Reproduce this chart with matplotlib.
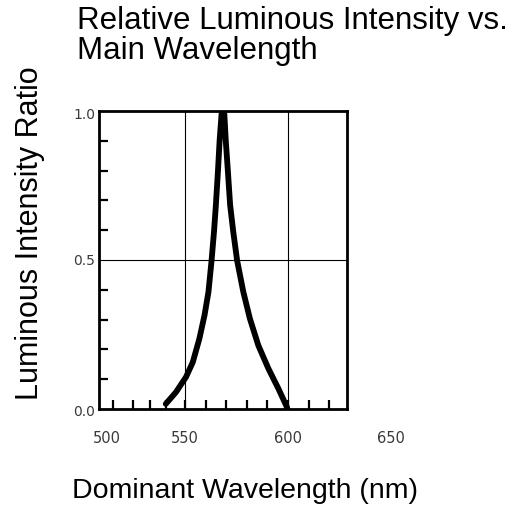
import matplotlib
matplotlib.use('Agg')
import matplotlib.pyplot as plt
import numpy as np

# curve (nm, relative intensity)
wavelength = [540.7, 545.6, 550.5, 553.8, 557.0, 559.5, 561.4, 562.9, 564.1, 565.0, 566.0, 566.8, 567.8,
              568.5,
              569.1, 569.8, 570.8, 571.9, 573.4, 575.3, 578.3, 581.5, 585.6, 590.5, 595.4, 599.6]
intensity = [0.017, 0.056, 0.107, 0.157, 0.236, 0.315, 0.393, 0.498, 0.596, 0.685, 0.798, 0.90, 0.994,
             1.0,
             0.99, 0.90, 0.80, 0.685, 0.596, 0.498, 0.393, 0.303, 0.213, 0.135, 0.067, 0.004]

x_ticks = [515, 525, 533, 541, 550, 560, 570, 580, 590, 600, 610, 620]
y_ticks = [0.1, 0.2, 0.3, 0.4, 0.6, 0.7, 0.8, 0.9]
x_labels = ['500', '550', '600', '650']
x_label_pos = [512, 550, 600, 650]
y_labels = ['0.0', '0.5', '1.0']
y_label_pos = [-0.01, 0.495, 0.985]

fig = plt.figure(figsize=(5.14, 5.08), dpi=100)
ax = fig.add_axes([0.1926, 0.195, 0.4825, 0.5865])

ax.plot(wavelength, intensity, color='black', lw=4.2, solid_capstyle='round',
        solid_joinstyle='round', zorder=3)

ax.set_xlim(508.3, 628.6)
ax.set_ylim(0, 1.0)

# grid lines
for gx in [550, 600]:
    ax.axvline(gx, color='black', lw=0.8, zorder=1)
ax.axhline(0.5, color='black', lw=0.8, zorder=1)

for s in ax.spines.values():
    s.set_linewidth(2)

ax.set_xticks(x_ticks)
ax.set_yticks(y_ticks)
ax.tick_params(direction='in', length=6.5, width=1.6, labelbottom=False, labelleft=False)

tick_font = dict(family='DejaVu Sans', color='#3a3a3a')
for lab, pos in zip(x_labels, x_label_pos):
    ax.text(pos, -0.10, lab, transform=ax.get_xaxis_transform(), ha='center', va='center',
            fontsize=10.5, clip_on=False, **tick_font)
for lab, pos in zip(y_labels, y_label_pos):
    ax.text(-0.016, pos, lab, transform=ax.get_yaxis_transform(), ha='right', va='center',
            fontsize=10, clip_on=False, **tick_font)

fig.text(0.15, 0.988, 'Relative Luminous Intensity vs.\nMain Wavelength', ha='left', va='top',
         fontsize=22.5, family='Liberation Sans', linespacing=0.98)
fig.text(0.058, 0.541, 'Luminous Intensity Ratio', rotation=90, ha='center', va='center',
         fontsize=22, family='Liberation Sans')
fig.text(0.476, 0.034, 'Dominant Wavelength (nm)', ha='center', va='center',
         fontsize=20.5, family='Liberation Sans')

fig.savefig('out.png', dpi=100)
